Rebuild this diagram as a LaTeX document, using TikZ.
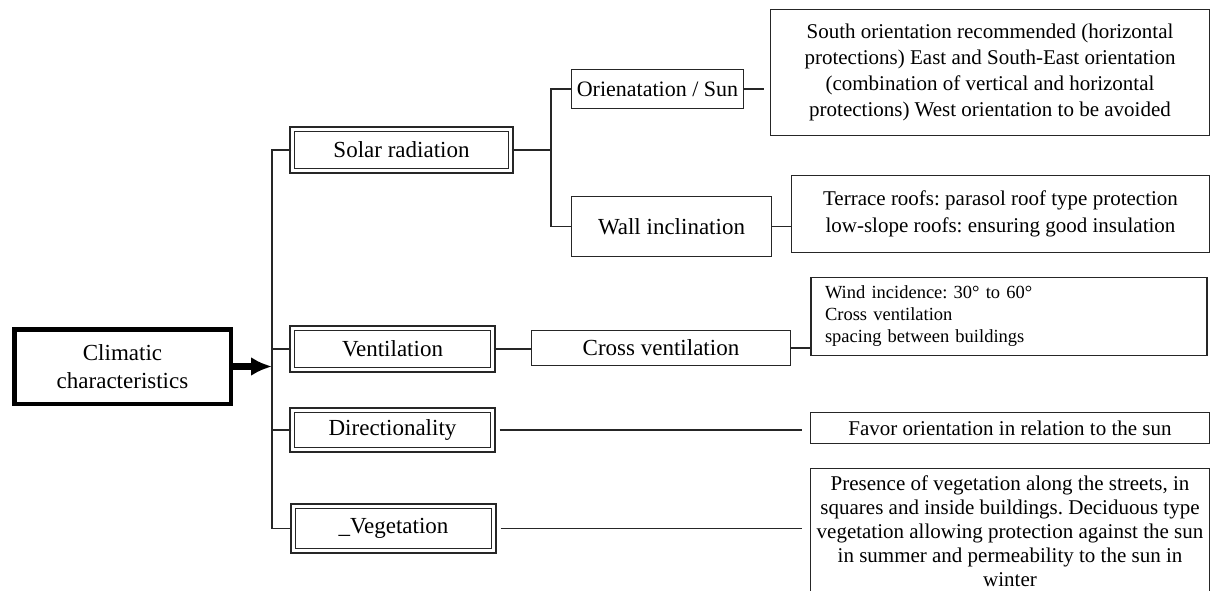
\documentclass[tikz,border=0pt]{standalone}
\usepackage{fontspec}
\setmainfont{Liberation Serif}
\usetikzlibrary{arrows.meta}
\frenchspacing

\begin{document}
\begin{tikzpicture}[
  x=1pt, y=-1pt,
  plainbox/.style={draw=black!85, line width=1.6pt, align=center, inner sep=0pt, font=\fontsize{21}{26}\selectfont},
  headbox/.style={draw=black!85, double=white, double distance=3pt, line width=1.7pt, inner sep=0pt, font=\fontsize{23}{27}\selectfont},
  link/.style={draw=black!85, line width=1.8pt},
  arrow/.style={-{Latex[length=21pt,width=19pt]}, line width=6.5pt}
]
\useasboundingbox (0,0) rectangle (1215,591);

\node[draw, line width=4.5pt, minimum width=216.5pt, minimum height=74.5pt, align=center, inner sep=0pt, font=\fontsize{23}{28}\selectfont] (clim) at (122.5,366.5) {Climatic\\characteristics};

% first level
\node[headbox, minimum width=218.7pt, minimum height=41.7pt] (solar) at (401.5,150) {Solar radiation};
\node[headbox, minimum width=200.7pt, minimum height=41.7pt] (vent) at (392.5,349) {Ventilation};
\node[headbox, minimum width=200.7pt, minimum height=39.7pt] (dir) at (392.5,430) {Directionality};
\node[headbox, minimum width=200.7pt, minimum height=44.7pt] (veg) at (393.5,528.5) {\_Vegetation};

% second level
\node[plainbox, font=\fontsize{22}{26}\selectfont, minimum width=171.7pt, minimum height=38.7pt] (orient) at (657.5,89) {Orienatation / Sun};
\node[plainbox, font=\fontsize{23}{27}\selectfont, minimum width=199.7pt, minimum height=59.7pt] (wall) at (671.5,226.5) {Wall inclination};
\node[plainbox, font=\fontsize{23}{27}\selectfont, minimum width=258.7pt, minimum height=34.7pt] (cross) at (661,348) {Cross ventilation};

% details
\node[plainbox, minimum width=438.7pt, minimum height=125.7pt] (south) at (990,72.5) {South orientation recommended (horizontal\\protections) East and South-East orientation\\(combination of vertical and horizontal\\protections) West orientation to be avoided};
\node[plainbox, font=\fontsize{21}{27}\selectfont, minimum width=417.7pt, minimum height=76.7pt] (terrace) at (1000.5,214) {Terrace roofs: parasol roof type protection\\low-slope roofs: ensuring good insulation};
\node[plainbox, font=\fontsize{18.5}{22}\selectfont, align=left, text width=368pt, inner xsep=14pt, minimum height=77.7pt] (wind) at (1009,316.5) {Wind incidence: 30° to 60°\\Cross ventilation\\spacing between buildings};
\node[plainbox, minimum width=398.7pt, minimum height=30.7pt] (favor) at (1010,428) {Favor orientation in relation to the sun};
\node[plainbox, font=\fontsize{21}{24}\selectfont, minimum width=398.7pt, minimum height=125pt] (vegtext) at (1010,531) {Presence of vegetation along the streets, in\\squares and inside buildings. Deciduous type\\vegetation allowing protection against the sun\\in summer and permeability to the sun in\\winter};

\coordinate (bus) at (272,364);
\coordinate (fork) at (551,150);

\draw[arrow] (clim.east) -- (clim.east -| bus);
\draw[link] (solar.west) -| (bus) |- (veg.west);
\draw[link] (vent.west) -- (vent.west -| bus);
\draw[link] (dir.west) -- (dir.west -| bus);

\draw[link] (solar.east) -- (fork);
\draw[link] (orient.west) -| (fork) |- (wall.west);
\draw[link, shorten >=6pt] (orient.east) -- (orient.east -| south.west);
\draw[link] (wall.east) -- (wall.east -| terrace.west);

\draw[link] (vent.east) -- (vent.east -| cross.west);
\draw[link] (cross.east) -- (cross.east -| wind.west);
\draw[link, shorten <=6pt, shorten >=8pt] (dir.east) -- (dir.east -| favor.west);
\draw[link, shorten <=6pt, shorten >=8pt] (veg.east) -- (veg.east -| vegtext.west);
\end{tikzpicture}
\end{document}
